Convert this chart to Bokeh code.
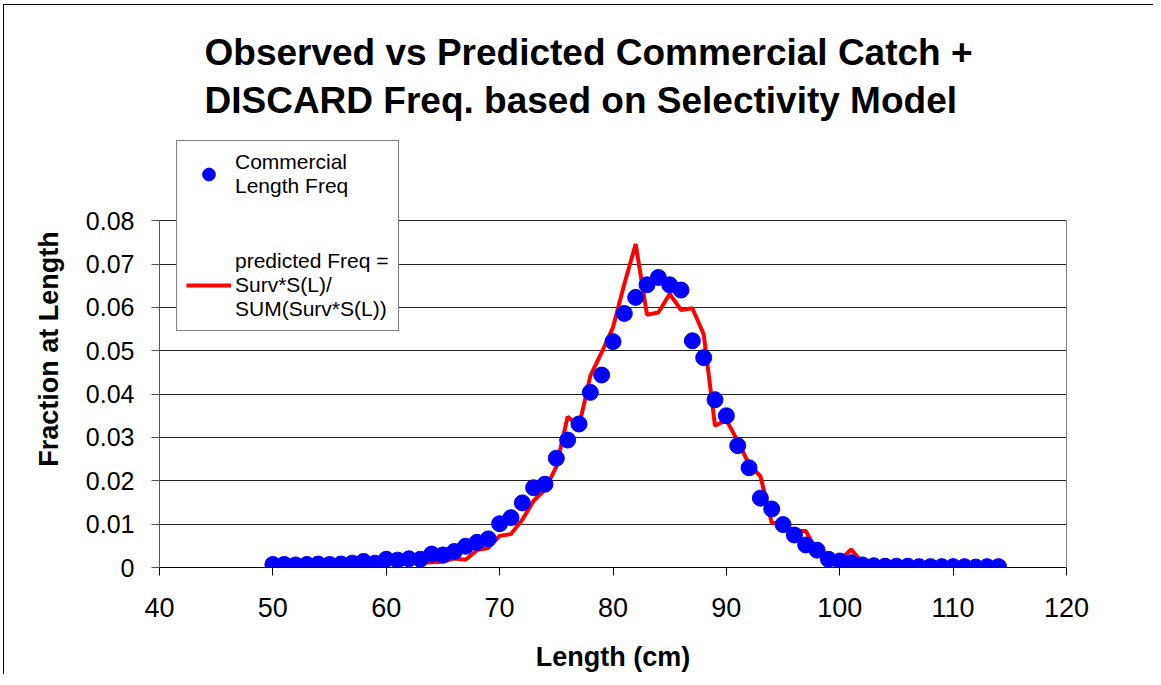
from bokeh.plotting import figure
from bokeh.models import FixedTicker, Legend, LegendItem, LinearAxis
from bokeh.embed import file_html
from bokeh.resources import INLINE

# ---- data ----
length_cm = [50, 51, 52, 53, 54, 55, 56, 57, 58, 59,
             60, 61, 62, 63, 64, 65, 66, 67, 68, 69,
             70, 71, 72, 73, 74, 75, 76, 77, 78, 79,
             80, 81, 82, 83, 84, 85, 86, 87, 88, 89,
             90, 91, 92, 93, 94, 95, 96, 97, 98, 99,
             100, 101, 102, 103, 104, 105, 106, 107, 108, 109,
             110, 111, 112, 113, 114]

observed_freq = [0.0007, 0.0007, 0.0006, 0.0007, 0.0008, 0.0007, 0.0008, 0.0010, 0.0014, 0.0010,
                 0.0019, 0.0017, 0.0020, 0.0019, 0.0031, 0.0029, 0.0037, 0.0049, 0.0058, 0.0066,
                 0.0101, 0.0115, 0.0149, 0.0184, 0.0192, 0.0252, 0.0294, 0.0331, 0.0404, 0.0444,
                 0.0521, 0.0586, 0.0623, 0.0652, 0.0669, 0.0652, 0.0640, 0.0523, 0.0484, 0.0387,
                 0.0350, 0.0281, 0.0230, 0.0160, 0.0135, 0.0099, 0.0075, 0.0052, 0.0040, 0.0019,
                 0.0015, 0.0011, 0.0006, 0.0004, 0.0003, 0.0003, 0.0003, 0.0002, 0.0002, 0.0002,
                 0.0002, 0.0002, 0.0001, 0.0002, 0.0002]

predicted_freq = [0.0004, 0.0004, 0.0005, 0.0005, 0.0005, 0.0006, 0.0006, 0.0007, 0.0007, 0.0008,
                  0.0009, 0.0010, 0.0010, 0.0011, 0.0012, 0.0013, 0.0021, 0.0018, 0.0040, 0.0045,
                  0.0073, 0.0077, 0.0110, 0.0154, 0.0180, 0.0232, 0.0348, 0.0325, 0.0442, 0.0496,
                  0.0554, 0.0654, 0.0746, 0.0583, 0.0588, 0.0631, 0.0594, 0.0598, 0.0538, 0.0327,
                  0.0340, 0.0292, 0.0238, 0.0211, 0.0103, 0.0099, 0.0084, 0.0084, 0.0038, 0.0015,
                  0.0015, 0.0042, 0.0011, 0.0004, 0.0003, 0.0002, 0.0002, 0.0002, 0.0001, 0.0001,
                  0.0001, 0.0001, 0.0001, 0.0001, 0.0001]

x_ticks = [40, 50, 60, 70, 80, 90, 100, 110, 120]
y_ticks = [0, 0.01, 0.02, 0.03, 0.04, 0.05, 0.06, 0.07, 0.08]
y_tick_labels = ["0", "0.01", "0.02", "0.03", "0.04", "0.05", "0.06", "0.07", "0.08"]

title_text = "Observed vs Predicted Commercial Catch +\nDISCARD Freq. based on Selectivity Model"
x_label = "Length (cm)"
y_label = "Fraction at Length"
obs_name = "Commercial\nLength Freq"
pred_name = "predicted Freq =\nSurv*S(L)/\nSUM(Surv*S(L))"

FONT = "Liberation Sans"

# the frame is extended above 0.08 so that the legend box (which sits partly
# above the plotted area in the original) is not clipped
p = figure(width=1150, height=670, x_range=(40, 120), y_range=(0, 0.1008),
           output_backend="svg", toolbar_location=None,
           min_border_left=155, min_border_right=88,
           min_border_top=125, min_border_bottom=108)

p.styles = {"margin-left": "3px", "margin-top": "4px",
            "border-left": "1px solid black", "border-top": "1px solid black"}

p.background_fill_color = "white"
p.border_fill_color = "white"
p.outline_line_color = None

# title
p.title.text = title_text
p.title.align = "left"
p.title.offset = 45
p.title.text_font = FONT
p.title.text_font_style = "bold"
p.title.text_font_size = "37px"
p.title.text_color = "black"
p.title.text_line_height = 1.19
p.title.standoff = 18

# axes
xa = p.xaxis[0]
xa.ticker = FixedTicker(ticks=x_ticks)
xa.axis_label = x_label
xa.axis_label_text_font = FONT
xa.axis_label_text_font_style = "bold"
xa.axis_label_text_font_size = "27px"
xa.axis_label_text_color = "black"
xa.axis_label_standoff = 22
xa.major_label_text_font = FONT
xa.major_label_text_font_size = "27px"
xa.major_label_text_color = "black"
xa.major_label_standoff = 22
xa.major_tick_out = 8
xa.major_tick_in = 0
xa.minor_tick_out = 0
xa.minor_tick_in = 0
xa.axis_line_color = "black"
xa.major_tick_line_color = "black"

ya = p.yaxis[0]
ya.ticker = FixedTicker(ticks=y_ticks)
ya.bounds = (0, 0.08)
ya.major_label_overrides = {t: s for t, s in zip(y_ticks, y_tick_labels)}
ya.axis_label = y_label
ya.axis_label_text_font = FONT
ya.axis_label_text_font_style = "bold"
ya.axis_label_text_font_size = "27px"
ya.axis_label_text_color = "black"
ya.axis_label_standoff = 19
ya.major_label_text_font = FONT
ya.major_label_text_font_size = "25px"
ya.major_label_text_color = "black"
ya.major_label_standoff = 17
ya.major_tick_out = 8
ya.major_tick_in = 0
ya.minor_tick_out = 0
ya.minor_tick_in = 0
ya.axis_line_color = "#555555"
ya.major_tick_line_color = "#555555"

# right edge of the plot area
ra = LinearAxis(ticker=FixedTicker(ticks=[]), bounds=(0, 0.08))
ra.axis_line_color = "#808080"
ra.major_tick_line_color = None
ra.minor_tick_line_color = None
ra.major_label_text_font_size = "0px"
p.add_layout(ra, "right")

p.xgrid.visible = False
p.ygrid.grid_line_color = "#222222"
p.ygrid.grid_line_width = 1

# data
ln = p.line(length_cm, predicted_freq, line_color="#FF0000", line_width=4)
sc = p.scatter(length_cm, observed_freq, size=16, fill_color="#0000FF",
               line_color="#0000FF", marker="circle")

legend = Legend(items=[LegendItem(label=obs_name, renderers=[sc]),
                       LegendItem(label=pred_name, renderers=[ln])],
                location=(17, 236))
legend.border_line_color = "black"
legend.border_line_width = 1
legend.background_fill_color = "white"
legend.background_fill_alpha = 1
legend.label_text_font = FONT
legend.label_text_font_size = "21px"
legend.label_text_color = "black"
legend.glyph_width = 45
legend.glyph_height = 32
legend.label_standoff = 4
legend.padding = 9
legend.spacing = 51
legend.margin = 0
p.add_layout(legend)

open("out.html", "w").write(file_html(p, INLINE))
